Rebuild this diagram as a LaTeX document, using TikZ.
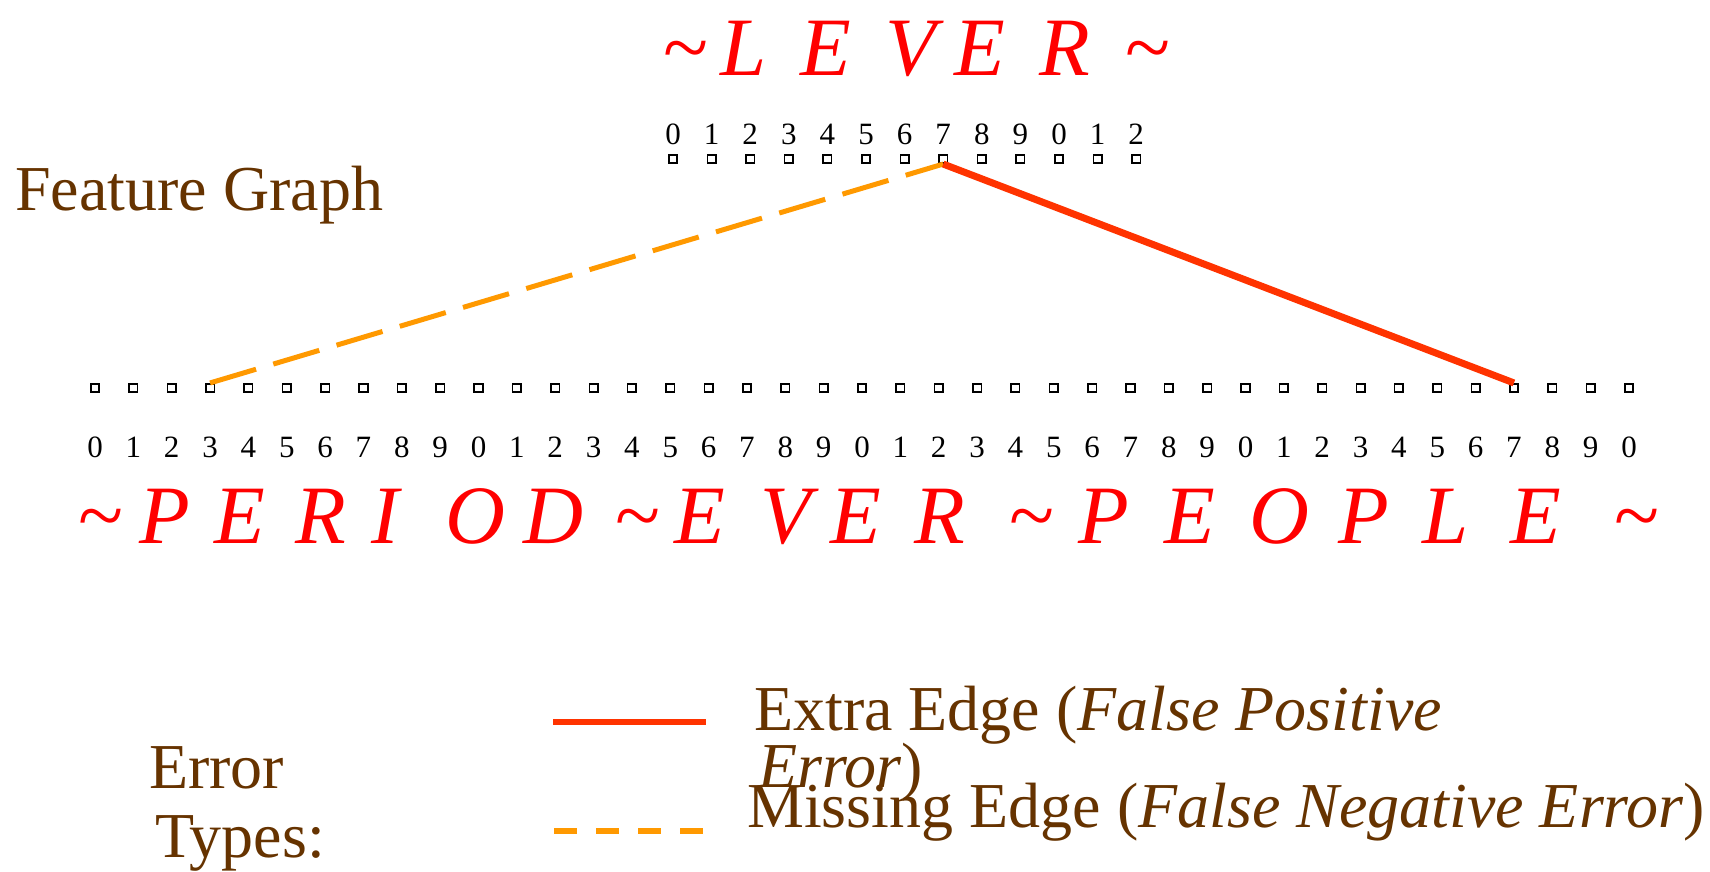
\documentclass[tikz,border=0pt]{standalone}
\usepackage{fontspec}
\setmainfont{Liberation Serif}
\definecolor{wordred}{RGB}{255,0,0}
\definecolor{edgered}{RGB}{255,51,0}
\definecolor{edgeorange}{RGB}{255,153,0}
\definecolor{labelbrown}{RGB}{102,51,0}

\begin{document}
\begin{tikzpicture}[x=1pt, y=-1pt,
  slot/.style={draw, line width=1.6pt, minimum size=8.5pt, inner sep=0pt},
  digit/.style={font=\fontsize{31}{31}\selectfont, anchor=base, inner sep=0pt},
  letter/.style={text=wordred, font=\fontsize{83}{90}\selectfont\itshape, anchor=base, inner sep=0pt},
  legend/.style={text=labelbrown, font=\fontsize{64}{69}\selectfont, anchor=base west, inner sep=0pt}]
\useasboundingbox (0,0) rectangle (1710,871);

% word LEVER with its slots
\foreach \x/\c [count=\k] in {685/\textasciitilde, 744/L, 826/E, 911/V, 980/E, 1065/R, 1147/\textasciitilde} {
\node[letter] (tw\k) at (\x,75) {\c};
}
\foreach \i in {0,...,12} {
\pgfmathsetmacro{\xx}{673+38.6*\i}
\pgfmathtruncatemacro{\digitval}{mod(\i,10)}
\node[slot] (t\i) at (\xx,159) {};
\node[digit] (td\i) at (\xx,144) {\digitval};
}

% sentence with its slots
\foreach \i in {0,...,40} {
\pgfmathsetmacro{\xx}{95+38.35*\i}
\pgfmathtruncatemacro{\digitval}{mod(\i,10)}
\node[slot] (b\i) at (\xx,388) {};
\node[digit] (bd\i) at (\xx,457) {\digitval};
}
\foreach \x/\c [count=\k] in {100/\textasciitilde, 165/P, 240/E, 321/R, 385/I, 475/O, 553/D, 637/\textasciitilde,
  700/E, 786/V, 856/E, 940/R, 1031/\textasciitilde, 1104/P, 1190/E, 1279/O, 1364/P, 1446/L, 1536/E, 1636/\textasciitilde} {
\node[letter] (bw\k) at (\x,543) {\c};
}

% edges
\draw[edgeorange, line width=5pt, dash pattern=on 48pt off 18pt] (b3.north) -- (t7.south);
\draw[edgered, line width=7pt] (t7.south) -- (b37.north);

\node[legend] (title) at (15,210) {Feature Graph};

% legend
\node[legend] (errA) at (149,788) {Error};
\node[legend] (errB) at (155,857) {Types:};
\coordinate (xa) at (553,722);
\coordinate (xb) at (706,722);
\coordinate (ma) at (554,831);
\coordinate (mb) at (703,831);
\draw[edgered, line width=6pt] (xa) -- (xb);
\draw[edgeorange, line width=6pt, dash pattern=on 23pt off 19pt] (ma) -- (mb);
\node[legend] (extra) at (754,730) {Extra Edge (\textit{False Positive}};
\node[legend] (extra2) at (758,787) {\textit{Error})};
\node[legend] (missing) at (747,827) {Missing Edge (\textit{False Negative Error})};
\end{tikzpicture}
\end{document}
